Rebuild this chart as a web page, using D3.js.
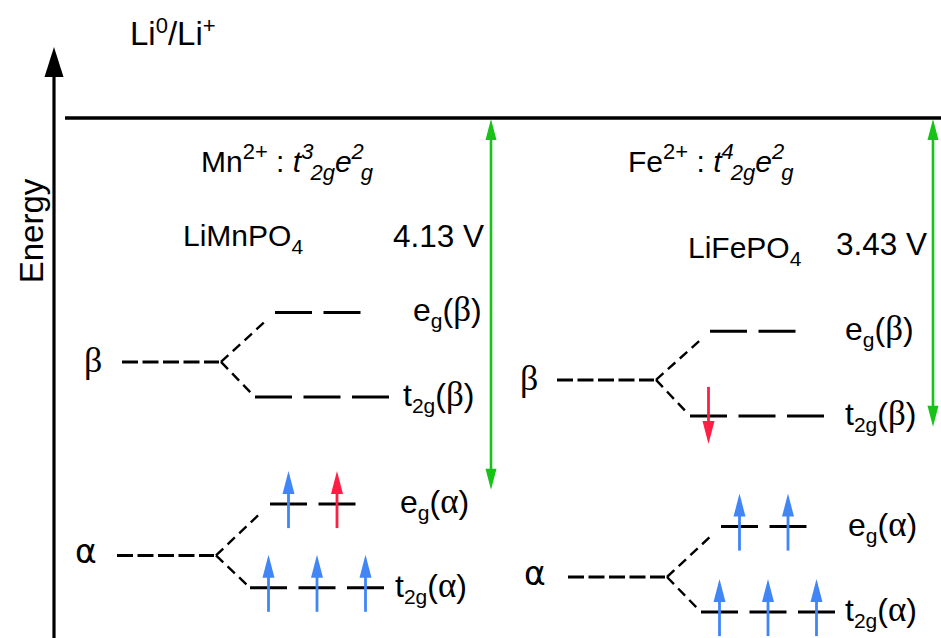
<!DOCTYPE html>
<html>
<head>
<meta charset="utf-8">
<script src="https://cdn.jsdelivr.net/npm/d3@7"></script>
<style>
  body { margin: 0; background: #fff; }
  text { font-family: "Liberation Sans", Arial, sans-serif; fill: #000; white-space: pre; }
  .greek { font-family: "Liberation Serif", "Times New Roman", serif; }
  .alpha { font-family: "DejaVu Sans", sans-serif; }
</style>
</head>
<body>
<svg id="chart" width="941" height="638"></svg>
<script>
// Redox couples of the two olivine cathodes
const compounds = ["LiMnPO", "LiFePO"];
const ions = ["Mn", "Fe"];
const t2gCount = ["3", "4"];
const egCount = ["2", "2"];
const voltages = [4.13, 3.43];            // V vs Li0/Li+

// Orbital energies, eV below the Li0/Li+ level
const spinBeta  = [-2.71, -2.91];
const egBeta    = [-2.16, -2.37];
const t2gBeta   = [-3.10, -3.31];
const spinAlpha = [-4.86, -5.10];
const egAlpha   = [-4.29, -4.54];
const t2gAlpha  = [-5.22, -5.49];

// Electrons per orbital: 1 spin up, -1 spin down, 0 empty
const egBetaSpins   = [[0, 0], [0, 0]];
const t2gBetaSpins  = [[0, 0, 0], [-1, 0, 0]];
const egAlphaSpins  = [[1, 1], [1, 1]];
const t2gAlphaSpins = [[1, 1, 1], [1, 1, 1]];

// Electron given up on delithiation (level, orbital index)
const redoxLevel   = ["egAlpha", "t2gBeta"];
const redoxOrbital = [1, 0];

const W = 941, H = 638;
const svg = d3.select("#chart");
const y = d3.scaleLinear().domain([0, -5.9]).range([118, 649]);

const BLUE = "#4285f4", RED = "#ff1f44", GREEN = "#17c317";

// Horizontal placement of each panel
const panels = [
  { betaX: 122, alphaX: 117, voltX: 491,
    headX: 201, headY: 172, nameX: 183, nameY: 246, vX: 484, vY: 247,
    betaLbl: 84, alphaLbl: 75,
    lbl: { egBeta: 413, t2gBeta: 403, egAlpha: 400, t2gAlpha: 395 } },
  { betaX: 557, alphaX: 568, voltX: 933,
    headX: 628, headY: 172, nameX: 688, nameY: 258, vX: 927, vY: 255,
    betaLbl: 520, alphaLbl: 524,
    lbl: { egBeta: 845, t2gBeta: 845, egAlpha: 848, t2gAlpha: 845 } }
];

// Text made of runs with super/subscript shifts
function rich(sel, x, yy, size, parts, anchor) {
  const t = sel.append("text").attr("x", x).attr("y", yy)
    .attr("font-size", size).attr("text-anchor", anchor || "start");
  let cur = 0;
  parts.forEach(p => {
    const s = p.shift || 0;
    const ts = t.append("tspan").attr("dy", s - cur).text(p.t);
    if (p.size) ts.attr("font-size", p.size);
    if (p.it) ts.attr("font-style", "italic");
    if (p.dx) ts.attr("dx", p.dx);
    if (p.cls) ts.attr("class", p.cls);
    cur = s;
  });
  return t;
}

// Vertical arrow with triangular head(s)
function vArrow(g, x, yTail, yTip, color, headLen, headW, width, both) {
  const dir = Math.sign(yTip - yTail);
  const y0 = both ? yTail + dir * headLen * 0.8 : yTail;
  g.append("line").attr("x1", x).attr("x2", x)
    .attr("y1", y0).attr("y2", yTip - dir * headLen * 0.8)
    .attr("stroke", color).attr("stroke-width", width);
  const head = (tip, d) => g.append("path")
    .attr("d", `M${x},${tip} L${x - headW / 2},${tip - d * headLen} L${x + headW / 2},${tip - d * headLen} Z`)
    .attr("fill", color);
  head(yTip, dir);
  if (both) head(yTail, -dir);
}

// Energy axis
vArrow(svg, 54, H + 5, 47, "#000", 30, 19, 3.2, false);
rich(svg, 0, 0, 33, [{ t: "Energy" }], "middle")
  .attr("transform", "translate(43,231) rotate(-90)");

// Li0/Li+ reference level
svg.append("line").attr("x1", 65).attr("x2", W).attr("y1", y(0)).attr("y2", y(0))
  .attr("stroke", "#000").attr("stroke-width", 3.5);
rich(svg, 130, 45, 33, [
  { t: "Li" }, { t: "0", shift: -12, size: 22 },
  { t: "/Li", shift: 0 }, { t: "+", shift: -12, size: 22 }
]);

const SPIN_LEN = 97, SEG = 37, PITCH = 48.5;
const levels = { egBeta, t2gBeta, egAlpha, t2gAlpha };
const spins = { egBeta: egBetaSpins, t2gBeta: t2gBetaSpins, egAlpha: egAlphaSpins, t2gAlpha: t2gAlphaSpins };

panels.forEach((p, i) => {
  const g = svg.append("g");

  // Ion configuration and compound name
  rich(g, p.headX, p.headY, 30, [
    { t: ions[i] }, { t: "2+", shift: -13, size: 22 },
    { t: " : ", shift: 0 },
    { t: "t", it: true }, { t: t2gCount[i], shift: -13, size: 22, it: true },
    { t: "2g", shift: 8, size: 22, it: true, dx: -3 },
    { t: "e", shift: 0, it: true }, { t: egCount[i], shift: -13, size: 22, it: true },
    { t: "g", shift: 8, size: 22, it: true, dx: -3 }
  ]);
  rich(g, p.nameX, p.nameY, 30, [{ t: compounds[i] }, { t: "4", shift: 8, size: 21 }]);
  rich(g, p.vX, p.vY, 31.5, [{ t: voltages[i].toFixed(2) + " V" }], "end");

  // Potential of the couple against Li0/Li+
  vArrow(g, p.voltX, y(0) + 1, y(-voltages[i]), GREEN, 21, 11, 2.6, true);

  // Exchange-split spin levels and their crystal-field splitting
  [
    { spin: "β", e: spinBeta[i], x0: p.betaX, lx: p.betaLbl, eg: "egBeta", t2g: "t2gBeta" },
    { spin: "α", e: spinAlpha[i], x0: p.alphaX, lx: p.alphaLbl, eg: "egAlpha", t2g: "t2gAlpha" }
  ].forEach(s => {
    const ys = y(s.e), xEnd = s.x0 + SPIN_LEN;
    g.append("line").attr("x1", s.x0).attr("x2", xEnd).attr("y1", ys).attr("y2", ys)
      .attr("stroke", "#000").attr("stroke-width", 3).attr("stroke-dasharray", "16 4.5");
    if (s.spin === "β") rich(g, s.lx, ys + 10, 36, [{ t: s.spin, cls: "greek" }]);
    else rich(g, s.lx, ys + 8, 33, [{ t: s.spin, cls: "alpha" }]);

    [
      { key: s.eg, start: xEnd + 56, n: 2, trim: 12, name: "e", sub: "g" },
      { key: s.t2g, start: xEnd + 36, n: 3, trim: 4, name: "t", sub: "2g" }
    ].forEach(l => {
      const yl = y(levels[l.key][i]);
      // dashed connector from the spin level
      const dx = l.start - (xEnd + 2), dy = yl - ys, len = Math.hypot(dx, dy);
      const f = (len - l.trim) / len;
      g.append("line").attr("x1", xEnd + 2).attr("y1", ys)
        .attr("x2", xEnd + 2 + dx * f).attr("y2", ys + dy * f)
        .attr("stroke", "#000").attr("stroke-width", 2.4).attr("stroke-dasharray", "10 6");

      const occ = spins[l.key][i];
      d3.range(l.n).forEach(k => {
        const xs = l.start + k * PITCH;
        g.append("line").attr("x1", xs).attr("x2", xs + SEG).attr("y1", yl).attr("y2", yl)
          .attr("stroke", "#000").attr("stroke-width", 3);
        const spin = occ[k];
        if (spin !== 0) {
          const xc = xs + SEG / 2;
          const col = (redoxLevel[i] === l.key && redoxOrbital[i] === k) ? RED : BLUE;
          if (spin > 0) vArrow(g, xc, yl + 24, yl - 33, col, 23, 12, 2.8, false);
          else vArrow(g, xc, yl - 29, yl + 28, col, 23, 12, 2.8, false);
        }
      });

      rich(g, p.lbl[l.key], yl + 9, 32, [
        { t: l.name }, { t: l.sub, shift: 7, size: 21 },
        { t: "(", shift: 0 }, { t: s.spin, cls: "greek", size: 35 }, { t: ")" }
      ]);
    });
  });
});
</script>
</body>
</html>
